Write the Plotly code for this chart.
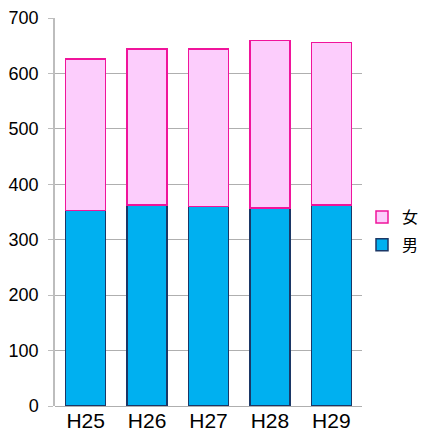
import plotly.graph_objects as go

# Yearly counts by sex (stacked)
years = ["H25", "H26", "H27", "H28", "H29"]
male = [353, 363, 360, 357, 363]
female = [273, 281, 284, 302, 293]

y_ticks = [0, 100, 200, 300, 400, 500, 600, 700]

FONT = "Liberation Sans, Arial, Noto Sans CJK JP, sans-serif"

fig = go.Figure()
fig.add_trace(go.Bar(
    x=years, y=male, name="男", legendgroup="m", legendrank=2,
    marker=dict(color="#00B0F0", line=dict(color="#1B3766", width=1.5)),
))
fig.add_trace(go.Bar(
    x=years, y=female, name="女", legendgroup="f", legendrank=1,
    marker=dict(color="#FCCDFC", line=dict(color="#F0149B", width=1.5)),
))

W, H = 422, 443
L, R, T, B = 55, 60, 18, 37
fig.update_layout(
    width=W, height=H,
    margin=dict(l=L, r=R, t=T, b=B, pad=0, autoexpand=False),
    barmode="stack", bargap=0.35,
    paper_bgcolor="white", plot_bgcolor="white",
    font=dict(family=FONT, color="#000000"),
    showlegend=True,
    legend=dict(
        xref="container", yref="container",
        x=362 / W, xanchor="left",
        y=1 - 200 / H, yanchor="top",
        traceorder="grouped", tracegroupgap=4,
        font=dict(size=16, family="Noto Sans CJK JP, sans-serif"),
        bgcolor="rgba(0,0,0,0)", borderwidth=0,
        itemwidth=30,
    ),
    xaxis=dict(
        tickfont=dict(size=21, family=FONT),
        showline=False, showgrid=False, ticks="",
        fixedrange=True, automargin=False,
    ),
    yaxis=dict(
        range=[0, 700], tickvals=y_ticks,
        tickfont=dict(size=18, family=FONT),
        showgrid=True, gridcolor="#AFAFAF", gridwidth=1.2,
        zeroline=True, zerolinecolor="#AFAFAF", zerolinewidth=1.2,
        showline=True, linecolor="#BDBDBD", linewidth=1.5,
        ticks="outside", ticklen=5, tickcolor="#BDBDBD", tickwidth=1.2,
        ticklabelstandoff=6,
        fixedrange=True, automargin=False,
    ),
)

fig.write_html("out.html")
